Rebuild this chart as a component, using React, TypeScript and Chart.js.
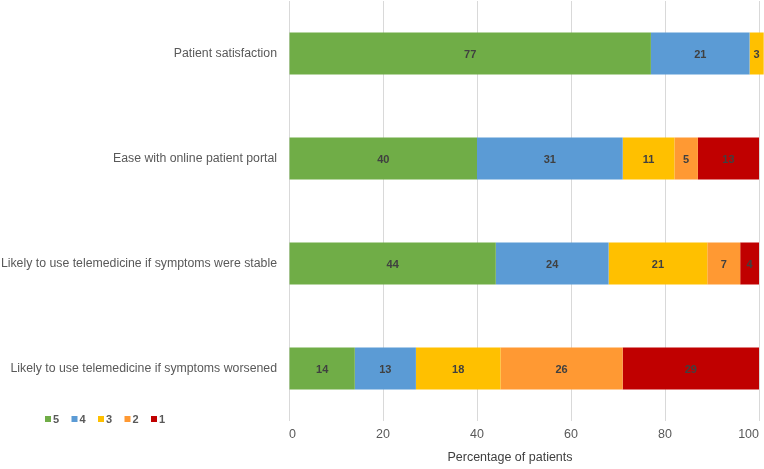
import React, { useEffect, useRef } from "react";
import { Chart, registerables } from "chart.js";

Chart.register(...registerables);

const categories = [
  "Patient satisfaction",
  "Ease with online patient portal",
  "Likely to use telemedicine if symptoms were stable",
  "Likely to use telemedicine if symptoms worsened",
];
const seriesNames = ["5", "4", "3", "2", "1"];
const score5 = [77, 40, 44, 14];
const score4 = [21, 31, 24, 13];
const score3 = [3, 11, 21, 18];
const score2 = [null, 5, 7, 26];
const score1 = [null, 13, 4, 29];
const xTicks = [0, 20, 40, 60, 80, 100];
const axisTitle = "Percentage of patients";

const colors = ["#70ad47", "#5b9bd5", "#ffc000", "#ff9933", "#c00000"];
const FONT = "'Liberation Sans', Arial, sans-serif";

const dataLabelPlugin = {
  id: "dataLabels",
  afterDatasetsDraw(chart: any) {
    const ctx = chart.ctx;
    ctx.save();
    ctx.font = `bold 11px ${FONT}`;
    ctx.fillStyle = "#404040";
    ctx.textAlign = "center";
    ctx.textBaseline = "middle";
    chart.data.datasets.forEach((ds: any, di: number) => {
      const meta = chart.getDatasetMeta(di);
      meta.data.forEach((el: any, i: number) => {
        const v = ds.data[i];
        if (v == null || v === 0) return;
        const cx = (el.x + el.base) / 2;
        ctx.fillText(String(v), cx, el.y + 1);
      });
    });
    ctx.restore();
  },
};

const legendPlugin = {
  id: "cornerLegend",
  afterDraw(chart: any) {
    const ctx = chart.ctx;
    ctx.save();
    ctx.font = `bold 11px ${FONT}`;
    ctx.textBaseline = "middle";
    ctx.textAlign = "left";
    const startX = 45;
    const y = 419;
    const step = 26.5;
    seriesNames.forEach((name, i) => {
      const x = startX + i * step;
      ctx.fillStyle = colors[i];
      ctx.fillRect(x, y - 3, 6, 6);
      ctx.fillStyle = "#595959";
      ctx.fillText(name, x + 8, y + 0.5);
    });
    // axis title, slightly left of the plot centre as in the reference
    ctx.font = `12.5px ${FONT}`;
    ctx.fillStyle = "#404040";
    ctx.textAlign = "center";
    const area = chart.chartArea;
    ctx.fillText(axisTitle, (area.left + area.right) / 2 - 14, 458);
    ctx.restore();
  },
};

export default function App() {
  const ref = useRef<HTMLCanvasElement>(null);
  useEffect(() => {
    if (!ref.current) return;
    const seriesData = [score5, score4, score3, score2, score1];
    const chart = new Chart(ref.current, {
      type: "bar",
      data: {
        labels: categories,
        datasets: seriesNames.map((n, i) => ({
          label: n,
          data: seriesData[i],
          backgroundColor: colors[i],
          borderWidth: 0,
          barPercentage: 0.4,
          categoryPercentage: 1,
          clip: false as any,
        })),
      },
      options: {
        indexAxis: "y",
        animation: false,
        responsive: true,
        maintainAspectRatio: false,
        layout: { padding: { top: 1, right: 5, left: 0, bottom: 0 } },
        plugins: {
          legend: { display: false },
          tooltip: { enabled: false },
        },
        scales: {
          x: {
            stacked: true,
            min: 0,
            max: 100,
            afterBuildTicks(scale: any) {
              scale.ticks = xTicks.map((v) => ({ value: v }));
            },
            afterFit(scale: any) {
              scale.height = 48;
              scale.paddingLeft = 0;
              scale.paddingRight = 0;
            },
            grid: { color: "#d9d9d9", drawTicks: false, lineWidth: 1 },
            border: { display: false },
            ticks: {
              color: "#595959",
              font: { family: FONT, size: 12.5 },
              padding: 6,
              maxRotation: 0,
              align: "inner",
            },
            title: { display: false },
          },
          y: {
            stacked: true,
            afterFit(scale: any) {
              scale.width = 289;
              scale.paddingTop = 0;
              scale.paddingBottom = 0;
            },
            grid: { display: false, drawTicks: false },
            border: { display: false },
            ticks: {
              color: "#595959",
              font: { family: FONT, size: 12.3 },
              padding: 12,
            },
          },
        },
      },
      plugins: [dataLabelPlugin, legendPlugin],
    });
    return () => chart.destroy();
  }, []);
  return (
    <div style={{ position: "absolute", left: 0, top: 0, width: 764, height: 469, background: "#fff" }}>
      <canvas ref={ref} />
    </div>
  );
}
